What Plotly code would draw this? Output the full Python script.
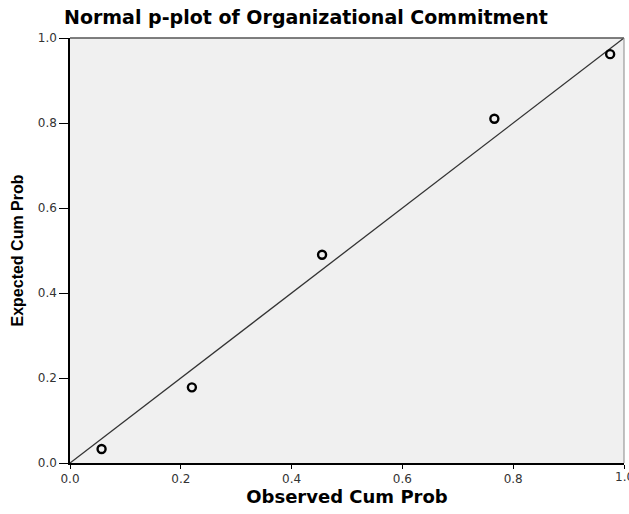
import plotly.graph_objects as go

observed = [0.057, 0.22, 0.455, 0.766, 0.975]
expected = [0.033, 0.178, 0.49, 0.81, 0.962]
ref_line = [0.0, 1.0]
tick_vals = [0.0, 0.2, 0.4, 0.6, 0.8, 1.0]
tick_text = ["0.0", "0.2", "0.4", "0.6", "0.8", "1.0"]

fig = go.Figure()
fig.add_trace(go.Scatter(x=ref_line, y=ref_line, mode="lines",
                         line=dict(color="#333333", width=1.3), hoverinfo="skip", showlegend=False))
fig.add_trace(go.Scatter(x=observed, y=expected, mode="markers",
                         marker=dict(symbol="circle-open", size=8, color="black", line=dict(width=2.4)),
                         showlegend=False))

fig.update_layout(
    width=629, height=514,
    margin=dict(l=70, r=5, t=38, b=51),
    paper_bgcolor="white", plot_bgcolor="#f0f0f0",
    font=dict(family="DejaVu Sans, sans-serif", color="black"),
    title=dict(text="<b>Normal p-plot of Organizational Commitment</b>",
               x=64/629, xref="container", xanchor="left",
               y=1-17/514, yanchor="middle", font=dict(size=19, color="black")),
)
axis_common = dict(range=[0, 1], tickvals=tick_vals, ticktext=tick_text,
                   ticks="outside", tickcolor="black", tickwidth=1,
                   showgrid=False, zeroline=False, showline=True, linecolor="black",
                   linewidth=1.5, mirror=False, tickfont=dict(size=12, color="#333333"))
fig.update_xaxes(**axis_common, ticklen=4,
                 title=dict(text="<b>Observed Cum Prob</b>", font=dict(size=18), standoff=2))
fig.update_yaxes(**axis_common, ticklen=9,
                 title=dict(text="<b>Expected Cum Prob</b>",
                            font=dict(size=16, family="Liberation Sans, Arial, sans-serif"),
                            standoff=10))

# last x tick label (plotly hides it because it overflows the page edge)
fig.add_annotation(x=tick_vals[-1], y=0, xref="x", yref="paper", text=tick_text[-1],
                   showarrow=False, yanchor="top", yshift=-5,
                   font=dict(size=12, color="#333333"))

# top and right frame
fig.add_shape(type="line", xref="paper", yref="paper", x0=0, x1=1, y0=1, y1=1,
              line=dict(color="#555555", width=1.5))
fig.add_shape(type="line", xref="paper", yref="paper", x0=1, x1=1, y0=0, y1=1,
              line=dict(color="#888888", width=1))

fig.write_html("out.html", config={"displayModeBar": False},
               post_script="document.body.style.margin='0';document.body.style.overflow='hidden';")
